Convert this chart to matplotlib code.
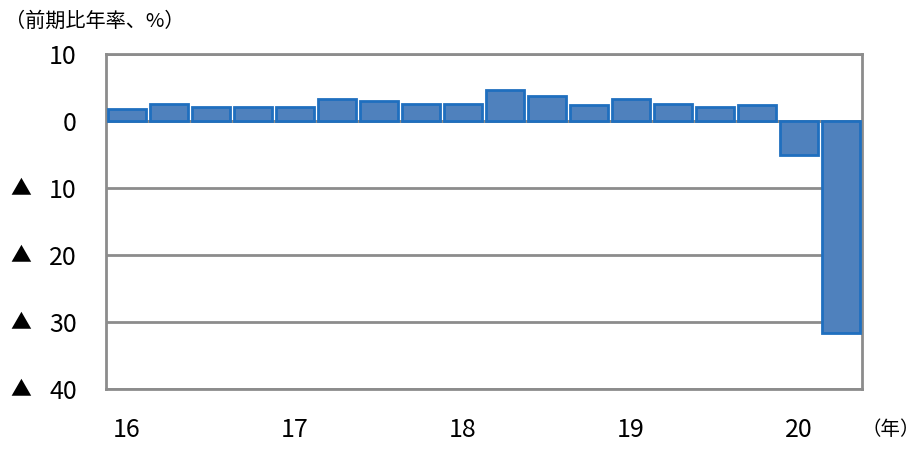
import matplotlib.pyplot as plt
from matplotlib.ticker import FixedLocator

plt.rcParams['font.family'] = ['Noto Sans CJK JP', 'DejaVu Sans']

# quarterly growth, 2016Q1 - 2020Q2 (annualized, %)
quarters = list(range(18))
growth = [1.8, 2.5, 2.1, 2.1, 2.1, 3.3, 3.0, 2.5, 2.5, 4.7,
          3.7, 2.4, 3.3, 2.5, 2.1, 2.4, -5.0, -31.6]
year_pos = [0, 4, 8, 12, 16]
year_labels = ['16', '17', '18', '19', '20']
y_ticks = [10, 0, -10, -20, -30, -40]
y_labels = ['10', '0', '10', '20', '30', '40']
neg_ticks = [-10, -20, -30, -40]

fig = plt.figure(figsize=(9.22, 4.5), dpi=100)
ax = fig.add_axes([0.115, 0.1356, 0.82, 0.744])

ax.bar(quarters, growth, width=0.92, color='#4F81BD',
       edgecolor='#1F6FBF', linewidth=2, zorder=3)

ax.set_xlim(-0.5, 17.5)
ax.set_ylim(-40, 10)

# grid lines
ax.yaxis.set_major_locator(FixedLocator(y_ticks))
ax.set_yticklabels(y_labels)
ax.grid(axis='y', color='#8C8C8C', linewidth=2, zorder=1)
ax.axhline(0, color='#8C8C8C', linewidth=2, zorder=2)

# triangle marks for negative values
for t in neg_ticks:
    ax.text(-0.113, t, '▲', transform=ax.get_yaxis_transform(),
            fontsize=15, ha='center', va='center')

ax.set_xticks(year_pos)
ax.set_xticklabels(year_labels)

for s in ax.spines.values():
    s.set_color('#8C8C8C')
    s.set_linewidth(2)

ax.tick_params(axis='y', length=0, pad=21, labelsize=18)
ax.tick_params(axis='x', length=0, pad=20, labelsize=18)

fig.text(0.005, 0.953, '（前期比年率、%）', fontsize=14.5, ha='left', va='center')
fig.text(0.934, 0.045, '（年）', fontsize=14, ha='left', va='center')

plt.savefig('out.png', dpi=100)
